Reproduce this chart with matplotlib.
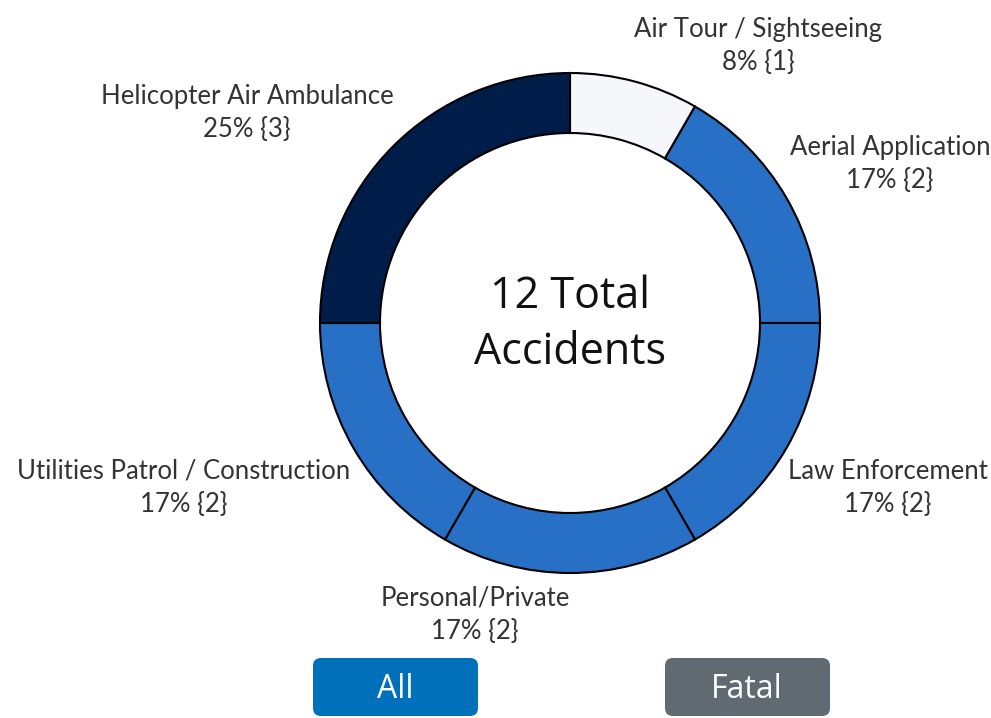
import matplotlib.pyplot as plt
from matplotlib.patches import FancyBboxPatch

# accident counts by mission type, clockwise from 12 o'clock
categories = ["Air Tour / Sightseeing", "Aerial Application", "Law Enforcement",
              "Personal/Private", "Utilities Patrol / Construction",
              "Helicopter Air Ambulance"]
counts = [1, 2, 2, 2, 2, 3]
colors = ["#f6f7fb", "#2870c6", "#2870c6", "#2870c6", "#2870c6", "#001d4a"]
total_label = "12 Total\nAccidents"
buttons = ["All", "Fatal"]
button_colors = ["#0070ba", "#5f6a73"]

W, H = 991, 718
fig = plt.figure(figsize=(W / 100, H / 100), dpi=100)
ax = fig.add_axes([0, 0, 1, 1])

cx, cy = 570, H - 323
ax.pie(counts, colors=colors, startangle=90, counterclock=False,
       center=(cx, cy), radius=250,
       wedgeprops=dict(width=60, edgecolor="black", linewidth=1.5))
ax.set_xlim(0, W)
ax.set_ylim(0, H)
ax.set_aspect("equal")
ax.axis("off")

ax.text(cx, H - 325, total_label, ha="center", va="center", fontsize=31,
        family="Open Sans", linespacing=1.35, color="#111111")

# label anchor points (pixel centres of the two-line labels)
label_pos = [(758, 46), (890, 164), (888, 488), (475, 615), (184, 488), (247, 113)]
total = sum(counts)
for name, n, (x, y) in zip(categories, counts, label_pos):
    pct = round(100 * n / total)
    ax.text(x, H - y, f"{name}\n{pct}% {{{n}}}", ha="center", va="center",
            fontsize=18.5, family="Lato", color="#333333", linespacing=1.42)

# filter buttons
for i, (lab, col) in enumerate(zip(buttons, button_colors)):
    x0 = 313 + i * 352
    box = FancyBboxPatch((x0 + 8, H - 716 + 8), 165 - 16, 58 - 16,
                         boxstyle="round,pad=8", facecolor=col, edgecolor="none")
    ax.add_patch(box)
    ax.text(x0 + 82, H - 689, lab, ha="center", va="center", fontsize=23,
            family="Open Sans", color="white")

fig.savefig("out.png", dpi=100)
